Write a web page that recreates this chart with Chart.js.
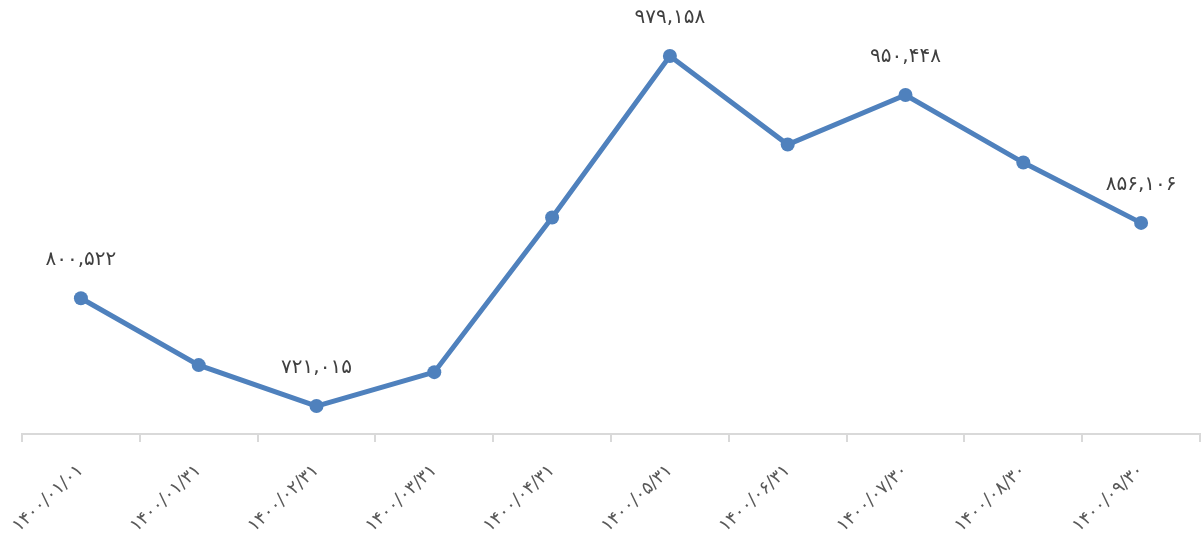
<!DOCTYPE html>
<html>
<head>
<meta charset="utf-8">
<script src="https://cdn.jsdelivr.net/npm/chart.js@4.4.0/dist/chart.umd.min.js"></script>
<style>
  html, body { margin: 0; padding: 0; background: #fff; overflow: hidden; }
</style>
</head>
<body>
<canvas id="lineChart" width="1201" height="538"></canvas>
<script>
// dates (Persian calendar), values, and which points get a value label
const dates = ['۱۴۰۰/۰۱/۰۱', '۱۴۰۰/۰۱/۳۱', '۱۴۰۰/۰۲/۳۱', '۱۴۰۰/۰۳/۳۱', '۱۴۰۰/۰۴/۳۱',
               '۱۴۰۰/۰۵/۳۱', '۱۴۰۰/۰۶/۳۱', '۱۴۰۰/۰۷/۳۰', '۱۴۰۰/۰۸/۳۰', '۱۴۰۰/۰۹/۳۰'];
const values = [800522, 751200, 721015, 746000, 860100, 979158, 913900, 950448, 900600, 856106];
const labeledPoints = [0, 2, 5, 7, 9];

const yMin = 700400;
const yMax = 1020500;

const faDigits = '۰۱۲۳۴۵۶۷۸۹';
const toPersian = (n) => n.toString()
  .replace(/\B(?=(\d{3})+(?!\d))/g, ',')
  .replace(/\d/g, d => faDigits[d]);

// draws value labels above selected points
const valueLabels = {
  id: 'valueLabels',
  afterDatasetsDraw(chart) {
    const ctx = chart.ctx;
    const meta = chart.getDatasetMeta(0);
    ctx.save();
    ctx.font = '20px "DejaVu Sans", sans-serif';
    ctx.fillStyle = '#404040';
    ctx.textAlign = 'center';
    ctx.textBaseline = 'middle';
    labeledPoints.forEach(i => {
      const pt = meta.data[i];
      ctx.fillText(toPersian(values[i]), pt.x, pt.y - 38);
    });
    ctx.restore();
  }
};

const ctx = document.getElementById('lineChart').getContext('2d');
new Chart(ctx, {
  type: 'line',
  data: {
    labels: dates,
    datasets: [{
      data: values,
      borderColor: '#4F81BD',
      backgroundColor: '#4F81BD',
      borderWidth: 5,
      pointRadius: 7,
      pointHoverRadius: 7,
      pointBorderWidth: 0,
      tension: 0,
      clip: false
    }]
  },
  options: {
    responsive: false,
    animation: false,
    layout: { autoPadding: false, padding: { left: 22, right: 1, top: 0, bottom: 0 } },
    plugins: {
      legend: { display: false },
      tooltip: { enabled: false }
    },
    scales: {
      x: {
        offset: true,
        grid: {
          offset: true,
          drawOnChartArea: false,
          drawTicks: true,
          tickLength: 8,
          color: '#d9d9d9',
          lineWidth: 2
        },
        border: { display: true, color: '#d9d9d9', width: 2 },
        ticks: {
          color: '#595959',
          font: { size: 18, family: '"DejaVu Sans", sans-serif' },
          minRotation: 43,
          maxRotation: 43,
          autoSkip: false,
          padding: 18
        },
        afterFit(scale) {
          scale.height = 104;
          scale.paddingLeft = 0;
          scale.paddingRight = 0;
        }
      },
      y: {
        display: false,
        min: yMin,
        max: yMax
      }
    }
  },
  plugins: [valueLabels]
});
</script>
</body>
</html>
